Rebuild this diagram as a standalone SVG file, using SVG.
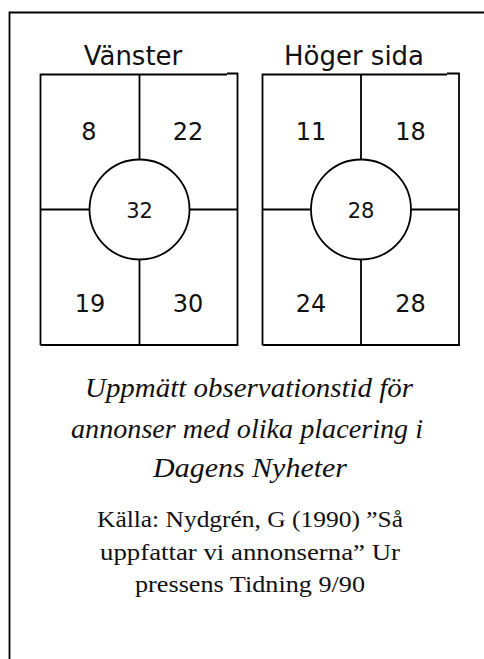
<svg xmlns="http://www.w3.org/2000/svg" width="484" height="659" viewBox="0 0 484 659">
<style>
.ln{stroke:#000;stroke-width:1.8;fill:none}
.num{font-family:"DejaVu Sans",Verdana,sans-serif;font-size:24px;text-anchor:middle;fill:#111}
.mid{font-family:"DejaVu Sans",Verdana,sans-serif;font-size:21px;text-anchor:middle;fill:#111}
.ttl{font-family:"DejaVu Sans",Verdana,sans-serif;font-size:26px;text-anchor:middle;fill:#111}
.cap{font-family:"Liberation Serif","Times New Roman",serif;font-style:italic;font-size:27px;text-anchor:middle;fill:#111}
.src{font-family:"Liberation Serif","Times New Roman",serif;font-size:23px;text-anchor:middle;fill:#111}
</style>
<rect width="484" height="659" fill="#fff"/>
<g id="frame">
<path class="ln" d="M9.5,670 V12.5 H490"/>
</g>
<g id="left-page">
<text class="ttl" x="133" y="65">Vänster</text>
<path class="ln" d="M40.5,345 V74.5 H227 M227,73.5 H237.5 V345 H40.5 M139.5,74.5 V159 M139.5,259 V345 M40.5,209.5 H89.5 M189.5,209.5 H237.5"/>
<circle class="ln" cx="139.5" cy="209.5" r="50"/>
<text class="num" x="89" y="140">8</text>
<text class="num" x="188" y="140">22</text>
<text class="mid" x="139.5" y="218">32</text>
<text class="num" x="90" y="312">19</text>
<text class="num" x="188" y="312">30</text>
</g>
<g id="right-page">
<text class="ttl" x="354" y="65">Höger sida</text>
<path class="ln" d="M262.5,345 V74.5 H447 M447,73.5 H459 V345 H262.5 M361,74.5 V159 M361,259 V345 M262.5,209.5 H311 M411,209.5 H459"/>
<circle class="ln" cx="361" cy="209.5" r="50"/>
<text class="num" x="311" y="140">11</text>
<text class="num" x="410.5" y="140">18</text>
<text class="mid" x="361" y="218">28</text>
<text class="num" x="311" y="312">24</text>
<text class="num" x="410.5" y="312">28</text>
</g>
<g id="caption">
<text class="cap" x="249" y="397" textLength="328" lengthAdjust="spacingAndGlyphs">Uppmätt observationstid för</text>
<text class="cap" x="247" y="438" textLength="352" lengthAdjust="spacingAndGlyphs">annonser med olika placering i</text>
<text class="cap" x="250" y="477" textLength="194" lengthAdjust="spacingAndGlyphs">Dagens Nyheter</text>
</g>
<g id="source">
<text class="src" x="250" y="527" textLength="306" lengthAdjust="spacingAndGlyphs">Källa: Nydgrén, G (1990) ”Så</text>
<text class="src" x="250" y="560" textLength="300" lengthAdjust="spacingAndGlyphs">uppfattar vi annonserna” Ur</text>
<text class="src" x="250" y="592" textLength="230" lengthAdjust="spacingAndGlyphs">pressens Tidning 9/90</text>
</g>
</svg>
